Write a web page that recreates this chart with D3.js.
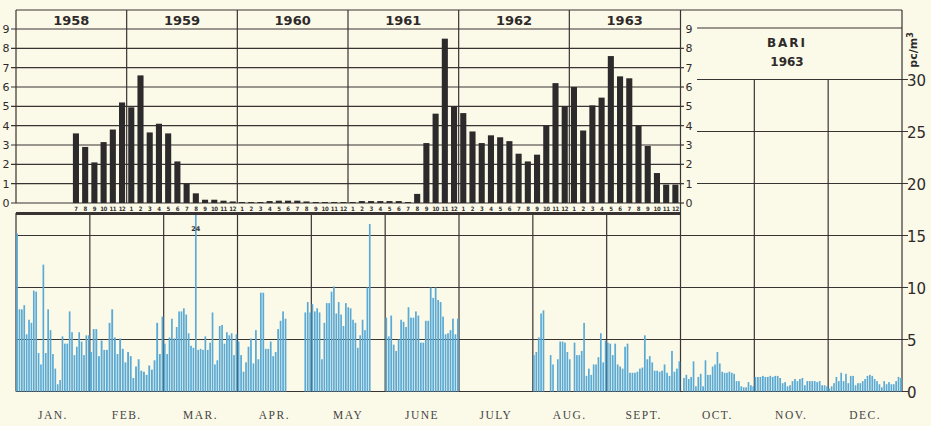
<!DOCTYPE html>
<html>
<head>
<meta charset="utf-8">
<script src="https://cdn.jsdelivr.net/npm/d3@7"></script>
<style>
  body { margin: 0; background: #fbf9e8; }
  svg { display: block; }
</style>
</head>
<body>
<div id="chart"></div>
<script>
const W = 931, H = 426;

// monthly means (top panel), one array per year, null = no sample
const years = [1958, 1959, 1960, 1961, 1962, 1963];
const pm1958 = [null, null, null, null, null, null, 3.6, 2.9, 2.1, 3.15, 3.8, 5.2];
const pm1959 = [4.95, 6.6, 3.65, 4.1, 3.6, 2.15, 1.0, 0.5, 0.17, 0.17, 0.12, 0.08];
const pm1960 = [0.05, 0.05, 0.05, 0.1, 0.12, 0.12, 0.12, 0.08, 0.05, 0.05, 0.05, 0.05];
const pm1961 = [0.05, 0.1, 0.1, 0.1, 0.1, 0.1, 0.05, 0.47, 3.1, 4.62, 8.5, 5.0];
const pm1962 = [4.65, 3.7, 3.1, 3.5, 3.4, 3.2, 2.55, 2.15, 2.5, 4.0, 6.2, 5.0];
const pm1963 = [6.0, 3.75, 5.05, 5.45, 7.6, 6.55, 6.45, 4.0, 2.95, 1.55, 0.95, 0.95];
const topTicks = [0, 1, 2, 3, 4, 5, 6, 7, 8, 9];

// daily values 1963 (bottom panel)
const monthNames = ["JAN.", "FEB.", "MAR.", "APR.", "MAY", "JUNE", "JULY", "AUG.", "SEPT.", "OCT.", "NOV.", "DEC."];
const jan = [15.2, 7.9, 7.9, 8.3, 5.5, 6.9, 6.6, 9.7, 9.6, 3.7, 2.6, 12.2, 3.7, 7.9, 5.9, 3.6, 2.2, 0.7, 1.1, 5.3, 4.6, 4.6, 7.7, 5.7, 3.5, 4.3, 5.7, 4.8, 3.5, 5.4, 5.4];
const feb = [3.8, 6.0, 6.0, 3.4, 4.9, 4.0, 4.0, 6.6, 7.9, 5.2, 3.6, 5.1, 4.1, 2.8, 3.8, 3.4, 1.3, 2.4, 3.1, 2.0, 1.9, 1.6, 2.5, 2.1, 3.0, 6.6, 3.6, 7.2];
const mar = [4.6, 3.6, 5.2, 7.0, 5.1, 6.2, 7.7, 7.7, 8.0, 7.4, 5.6, 4.4, 4.2, 24, 4.0, 4.1, 4.0, 5.3, 4.0, 4.7, 7.6, 2.6, 3.0, 6.3, 6.4, 4.6, 5.7, 5.4, 5.6, 3.5, 5.5];
const apr = [4.8, 3.5, 1.9, 2.8, 4.3, 5.1, 2.7, 5.9, 3.1, 9.5, 9.5, 4.1, 4.1, 4.8, 3.4, 3.8, 6.0, 6.8, 7.7, 7.0, null, null, null, null, null, null, null, 7.6, 8.6, 7.6];
const may = [8.4, 7.7, 8.0, 7.6, 3.1, 6.6, 8.5, 8.5, 9.6, 10.1, 7.5, 8.6, 7.4, 6.3, 8.5, 8.1, 8.0, 6.9, 6.6, 4.2, 5.4, 6.9, 5.9, 10.0, 16.1, null, null, null, null, null, null];
const jun = [7.1, 5.3, 7.3, 4.5, 3.9, 5.0, 6.9, 6.7, 6.2, 8.1, 7.1, 7.1, 7.7, 7.3, 4.7, 4.7, 6.8, 6.8, 10.0, 9.0, 10.0, 8.8, 8.6, 7.2, 5.5, 5.6, 5.9, 7.0, 5.5, 7.0];
const jul = [null, null, null, null, null, null, null, null, null, null, null, null, null, null, null, null, null, null, null, null, null, null, null, null, null, null, null, null, null, null, null];
const aug = [3.5, 3.8, 5.2, 7.5, 7.8, null, null, 3.5, 2.6, null, 3.1, 4.8, 4.8, 4.7, 3.8, 3.1, null, 4.7, 3.5, 3.5, 3.9, 6.6, 1.5, 2.2, 1.6, 2.6, 2.6, 3.3, 5.6, 2.8, 4.9];
const sep = [4.7, 4.6, 3.5, 4.6, 2.6, 2.4, 2.2, 4.3, 4.6, 1.8, 1.8, 1.8, 1.9, 2.2, 2.3, 5.4, 3.1, 3.4, 2.8, 2.0, 2.0, 1.9, 2.0, 2.6, 1.8, 1.5, 3.9, 1.9, 2.2, 2.9];
const oct = [null, 1.3, 1.6, 1.2, 1.4, 2.9, 0.5, 1.4, 1.7, 0.5, 3.0, 1.6, 1.6, 2.4, 2.6, 3.8, 2.7, 1.9, 1.8, 1.8, 1.9, 1.8, 1.7, 1.0, 1.0, 0.5, 0.4, 0.4, 0.9, 0.6, 0.5];
const nov = [1.4, 1.4, 1.4, 1.5, 1.4, 1.4, 1.5, 1.4, 1.5, 1.5, 1.3, 0.8, 0.9, 0.5, 0.6, 1.0, 1.2, 1.0, 1.2, 1.3, 0.6, 1.0, 1.0, 1.0, 1.0, 0.9, 1.0, 0.6, 0.6, 0.5];
const dec = [0.3, 0.5, 0.8, 1.4, 1.0, 1.8, 1.0, 1.7, 0.8, 1.5, 1.5, 0.6, 0.8, 0.8, 1.0, 1.2, 1.5, 1.6, 1.5, 1.2, 1.0, 0.7, 0.4, 1.0, 0.7, 0.9, 0.7, 0.7, 1.0, 1.4, 1.3];
const botTicks = [0, 5, 10, 15, 20, 25, 30];

const monthly = [pm1958, pm1959, pm1960, pm1961, pm1962, pm1963];
const daily = [jan, feb, mar, apr, may, jun, jul, aug, sep, oct, nov, dec];

const ink = "#3a3333";
const barDark = "#2c2a2a";
const barBlue = "#5aaad5";

const svg = d3.select("#chart").append("svg")
    .attr("width", W)
    .attr("height", H)
    .style("background", "#fbf9e8");

// scales
const xYear = d3.scaleBand().domain(years).range([16, 680]);
const xMon = d3.scaleBand().domain(d3.range(12)).range([0, xYear.bandwidth()])
    .paddingInner(0.34).paddingOuter(0.17);
const yTop = d3.scaleLinear().domain([0, 9]).range([203, 29]);

const xMonth = d3.scaleBand().domain(monthNames).range([16, 902]);
const yBot = d3.scaleLinear().domain([0, 30]).range([391.5, 79.5]);

const grid = svg.append("g").attr("stroke", ink).attr("stroke-width", 1.2);

// ---- top panel grid
grid.selectAll(".ht")
    .data(topTicks)
    .join("line")
    .attr("x1", 11).attr("x2", 680)
    .attr("y1", d => yTop(d)).attr("y2", d => yTop(d));

grid.append("line").attr("x1", 16).attr("x2", 902).attr("y1", 10).attr("y2", 10);
grid.append("line").attr("x1", 16).attr("x2", 16).attr("y1", 10).attr("y2", 203);
grid.selectAll(".yd")
    .data(years.slice(1))
    .join("line")
    .attr("x1", d => xYear(d)).attr("x2", d => xYear(d))
    .attr("y1", 10).attr("y2", 203);

// right tick stubs of the top panel
grid.selectAll(".rt")
    .data(topTicks.slice(0, 9))
    .join("line")
    .attr("x1", 680).attr("x2", 684)
    .attr("y1", d => yTop(d)).attr("y2", d => yTop(d));

// thick separator
svg.append("line")
    .attr("x1", 16).attr("x2", 680).attr("y1", 213.5).attr("y2", 213.5)
    .attr("stroke", ink).attr("stroke-width", 3);

// ---- bottom panel grid
grid.selectAll(".hb")
    .data(botTicks)
    .join("line")
    .attr("x1", d => d <= 15 ? 16 : 697).attr("x2", 908)
    .attr("y1", d => yBot(d)).attr("y2", d => yBot(d));

grid.append("line").attr("x1", 697).attr("x2", 902).attr("y1", 28).attr("y2", 28);

grid.selectAll(".vb")
    .data(monthNames.slice(1))
    .join("line")
    .attr("x1", d => xMonth(d)).attr("x2", d => xMonth(d))
    .attr("y1", d => xMonth(d) > 700 ? yBot(30) : (Math.abs(xMonth(d) - 680) < 2 ? 10 : 213))
    .attr("y2", yBot(0));
grid.append("line").attr("x1", 16).attr("x2", 16).attr("y1", 213).attr("y2", yBot(0));
grid.append("line").attr("x1", 902).attr("x2", 902).attr("y1", 10).attr("y2", yBot(0));

// ---- top bars
years.forEach((yr, i) => {
    const g = svg.append("g").attr("transform", `translate(${xYear(yr)},0)`);
    const vals = monthly[i].map((v, m) => ({ m, v })).filter(d => d.v !== null);

    g.selectAll("rect")
        .data(vals)
        .join("rect")
        .attr("x", d => xMon(d.m))
        .attr("width", xMon.bandwidth())
        .attr("y", d => yTop(d.v))
        .attr("height", d => yTop(0) - yTop(d.v))
        .attr("fill", barDark);

    g.selectAll("text")
        .data(vals)
        .join("text")
        .attr("x", d => xMon(d.m) + xMon.bandwidth() / 2)
        .attr("y", 210.5)
        .attr("text-anchor", "middle")
        .style("font-family", "DejaVu Sans Condensed, sans-serif")
        .style("font-size", "6px")
        .style("font-weight", "bold")
        .style("letter-spacing", "-0.4px")
        .attr("fill", "#333")
        .text(d => d.m + 1);
});

// year header
svg.selectAll(".yl")
    .data(years)
    .join("text")
    .attr("x", d => xYear(d) + xYear.bandwidth() / 2)
    .attr("y", 25)
    .attr("text-anchor", "middle")
    .style("font-family", "DejaVu Sans, sans-serif")
    .style("font-size", "13px")
    .style("font-weight", "bold")
    .attr("fill", "#2e2a2a")
    .text(d => d);

// top axis labels, left and right
svg.selectAll(".tl")
    .data(topTicks)
    .join("text")
    .attr("x", 6)
    .attr("y", d => yTop(d) + 4)
    .attr("text-anchor", "middle")
    .style("font-family", "DejaVu Sans, sans-serif")
    .style("font-size", "11px")
    .attr("fill", "#2e2a2a")
    .text(d => d);

svg.selectAll(".tr")
    .data(topTicks)
    .join("text")
    .attr("x", 689)
    .attr("y", d => yTop(d) + 4)
    .attr("text-anchor", "middle")
    .style("font-family", "DejaVu Sans, sans-serif")
    .style("font-size", "11px")
    .attr("fill", "#2e2a2a")
    .text(d => d);

// ---- daily bars
svg.append("clipPath").attr("id", "clipBot")
    .append("rect").attr("x", 0).attr("y", 215).attr("width", W).attr("height", 200);

const days = svg.append("g").attr("clip-path", "url(#clipBot)");
daily.forEach((arr, i) => {
    const xd = d3.scaleBand().domain(d3.range(arr.length))
        .range([xMonth(monthNames[i]), xMonth(monthNames[i]) + xMonth.bandwidth()])
        .paddingInner(0.3).paddingOuter(0.1);
    days.append("g")
        .selectAll("rect")
        .data(arr.map((v, d) => ({ d, v })).filter(d => d.v !== null))
        .join("rect")
        .attr("x", d => xd(d.d))
        .attr("width", xd.bandwidth())
        .attr("y", d => yBot(d.v))
        .attr("height", d => yBot(0) - yBot(d.v))
        .attr("fill", barBlue);

    // the off-scale day gets its value written above
    arr.forEach((v, d) => {
        if (v !== null && v > 17) {
            svg.append("text")
                .attr("x", xd(d) + xd.bandwidth() / 2)
                .attr("y", 231)
                .attr("text-anchor", "middle")
                .style("font-family", "DejaVu Sans, sans-serif")
                .style("font-size", "6.5px")
                .style("font-weight", "bold")
                .attr("fill", "#333")
                .text(v);
        }
    });
});

// bottom right axis labels
svg.selectAll(".br")
    .data(botTicks)
    .join("text")
    .attr("x", 907)
    .attr("y", d => yBot(d) + 6)
    .style("font-family", "DejaVu Sans, sans-serif")
    .style("font-size", "15px")
    .attr("fill", "#2e2a2a")
    .text(d => d);

// month names
svg.selectAll(".mn")
    .data(monthNames)
    .join("text")
    .attr("x", d => xMonth(d) + xMonth.bandwidth() / 2)
    .attr("y", 419)
    .attr("text-anchor", "middle")
    .style("font-family", "Liberation Serif, serif")
    .style("font-size", "11.5px")
    .style("letter-spacing", "1.5px")
    .attr("fill", "#444")
    .text(d => d);

// station title
svg.append("text")
    .attr("x", 787).attr("y", 47)
    .attr("text-anchor", "middle")
    .style("font-family", "DejaVu Sans, sans-serif")
    .style("font-size", "12px")
    .style("font-weight", "bold")
    .style("letter-spacing", "2px")
    .attr("fill", "#2e2a2a")
    .text("BARI");
svg.append("text")
    .attr("x", 787).attr("y", 66)
    .attr("text-anchor", "middle")
    .style("font-family", "DejaVu Sans, sans-serif")
    .style("font-size", "12px")
    .style("font-weight", "bold")
    .attr("fill", "#2e2a2a")
    .text("1963");

// unit label
const unit = svg.append("text")
    .attr("transform", "translate(917,50) rotate(-90)")
    .attr("text-anchor", "middle")
    .style("font-family", "DejaVu Sans, sans-serif")
    .style("font-size", "11px")
    .style("font-weight", "bold")
    .attr("fill", "#2e2a2a");
unit.append("tspan").text("pc/m");
unit.append("tspan").attr("dy", -4).style("font-size", "8px").text("3");
</script>
</body>
</html>
